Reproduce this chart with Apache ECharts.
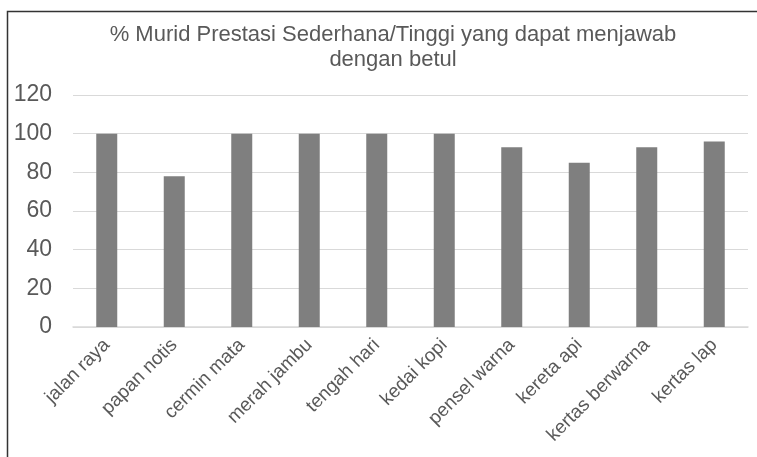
<!DOCTYPE html>
<html>
<head>
<meta charset="utf-8">
<script src="https://cdn.jsdelivr.net/npm/echarts@6/dist/echarts.min.js"></script>
<style>
  html, body { margin: 0; padding: 0; background: #fff; }
  #chart { width: 757px; height: 457px; }
</style>
</head>
<body>
<div id="chart"></div>
<script>
// data
const categories = ['jalan raya', 'papan notis', 'cermin mata', 'merah jambu', 'tengah hari',
  'kedai kopi', 'pensel warna', 'kereta api', 'kertas berwarna', 'kertas lap'];
const percentCorrect = [100, 78, 100, 100, 100, 100, 93, 85, 93, 96];
const titleText = '% Murid Prestasi Sederhana/Tinggi yang dapat menjawab\ndengan betul';

const chart = echarts.init(document.getElementById('chart'));
const textColor = '#595959';

chart.setOption({
  animation: false,
  textStyle: { fontFamily: 'Liberation Sans, Arial, sans-serif' },
  title: {
    text: titleText,
    left: 388,
    top: 17,
    textAlign: 'center',
    textStyle: {
      color: textColor,
      fontSize: 22,
      fontWeight: 'normal',
      lineHeight: 25
    }
  },
  graphic: [{
    type: 'rect',
    shape: { x: 7.5, y: 11.5, width: 800, height: 500 },
    style: { fill: 'none', stroke: '#333', lineWidth: 1.5 },
    silent: true
  }],
  grid: {
    left: 73,
    right: 9,
    top: 95,
    bottom: 130
  },
  xAxis: {
    type: 'category',
    data: categories,
    axisTick: { show: false },
    axisLine: { lineStyle: { color: '#d9d9d9', width: 1.5 } },
    axisLabel: {
      rotate: 45,
      color: textColor,
      fontSize: 19,
      margin: 15,
      interval: 0
    }
  },
  yAxis: {
    type: 'value',
    min: 0,
    max: 120,
    interval: 20,
    axisLine: { show: false },
    axisTick: { show: false },
    splitLine: { lineStyle: { color: '#d9d9d9', width: 1.2 } },
    axisLabel: { color: textColor, fontSize: 23, margin: 21 }
  },
  series: [{
    type: 'bar',
    data: percentCorrect,
    barWidth: 21,
    itemStyle: { color: '#7f7f7f' }
  }]
});
</script>
</body>
</html>
